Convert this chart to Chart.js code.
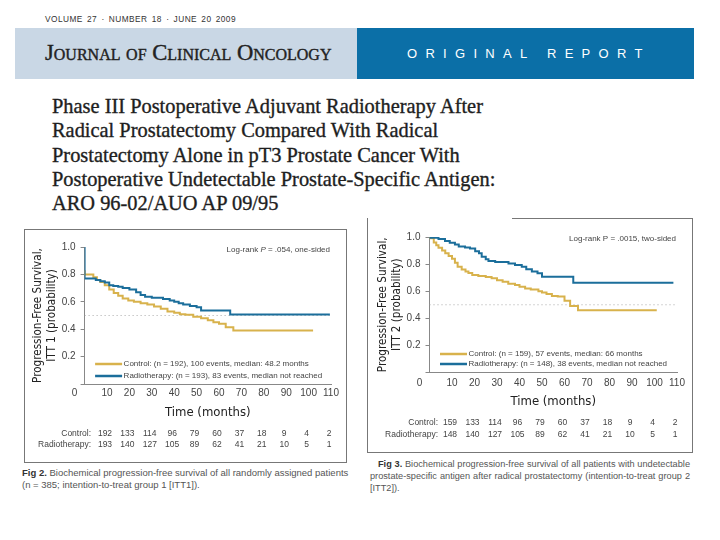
<!DOCTYPE html>
<html lang="en">
<head>
<meta charset="UTF-8">
<title>ARO 96-02/AUO AP 09/95</title>
<script src="https://cdn.jsdelivr.net/npm/chart.js@4.4.1/dist/chart.umd.min.js"></script>
<style>
  body { margin:0; width:720px; height:540px; background:#fff; position:relative; overflow:hidden; font-family:'Liberation Sans', Arial, sans-serif; }
  .abs { position:absolute; white-space:nowrap; }
  #issue { left:45px; top:14px; font-size:8.3px; letter-spacing:0.45px; word-spacing:1.5px; color:#333; }
  #bandL { left:15px; top:28px; width:342px; height:51px; background:#c9d7e5; }
  #bandR { left:357px; top:28px; width:337px; height:51px; background:#0b6fa7; }
  #journal { left:45px; top:40px; font-family:'Liberation Serif', serif; font-variant:small-caps; font-size:22.6px; color:#222; -webkit-text-stroke:0.4px #222; }
  #report { left:407px; top:46px; font-size:13px; letter-spacing:8.3px; color:#fff; }
  #title { left:52px; top:94px; font-family:'Liberation Serif', serif; font-size:20.4px; line-height:24.3px; color:#1e1e1e; -webkit-text-stroke:0.35px #1e1e1e; }
  .frame { box-sizing:border-box; border:1px solid #777; }
  #frameL { left:24px; top:229px; width:323px; height:234px; }
  #frameR { left:367px; top:218px; width:326px; height:235px; border-top:none; }
  #frameTop { left:512px; top:218px; width:181px; height:1px; background:#777; }
  canvas { position:absolute; }
  .cap { font-size:9.5px; color:#555; line-height:12px; }
  .cap b { color:#333; }
  #cap3 { left:370px; top:458px; width:320px; font-size:9.2px; }
  #cap3 span { display:block; white-space:nowrap; text-align:justify; text-align-last:justify; }
  #cap3 span.last { text-align-last:left; }
</style>
</head>
<body>
<div class="abs" id="issue">VOLUME 27 · NUMBER 18 · JUNE 20 2009</div>
<div class="abs" id="bandL"></div>
<div class="abs" id="bandR"></div>
<div class="abs" id="journal">Journal of Clinical Oncology</div>
<div class="abs" id="report">ORIGINAL REPORT</div>
<div class="abs" id="title">Phase III Postoperative Adjuvant Radiotherapy After<br>Radical Prostatectomy Compared With Radical<br>Prostatectomy Alone in pT3 Prostate Cancer With<br>Postoperative Undetectable Prostate-Specific Antigen:<br>ARO 96-02/AUO AP 09/95</div>

<div class="abs frame" id="frameL"></div>
<div class="abs frame" id="frameR"></div>
<div class="abs" id="frameTop"></div>
<canvas id="chart1" width="320" height="231" style="left:25px;top:230px"></canvas>
<canvas id="chart2" width="323" height="232" style="left:368px;top:219px"></canvas>

<div class="abs cap" style="left:22px;top:467px"><b>Fig 2.</b> Biochemical progression-free survival of all randomly assigned patients<br>(n = 385; intention-to-treat group 1 [ITT1]).</div>
<div class="abs cap" id="cap3"><span style="padding-left:8px"><b>Fig 3.</b> Biochemical progression-free survival of all patients with undetectable</span><span>prostate-specific antigen after radical prostatectomy (intention-to-treat group 2</span><span class="last">[ITT2]).</span></div>

<script>
// axis ticks
const xTicks = [0, 10, 20, 30, 40, 50, 60, 70, 80, 90, 100, 110];
const riskTimes = [10, 20, 30, 40, 50, 60, 70, 80, 90, 100, 110];

// Fig 2 - ITT1 (months, probability)
const itt1RadioT = [0, 0, 5, 7, 9, 11, 12.8, 15, 17, 20, 23, 25, 27, 30, 35, 38, 40, 42, 44, 47, 50, 52, 65, 72.4, 109.5];
const itt1RadioS = [1.0, 0.776, 0.77, 0.76, 0.75, 0.74, 0.72, 0.715, 0.71, 0.70, 0.69, 0.67, 0.65, 0.637, 0.63, 0.62, 0.61, 0.60, 0.59, 0.58, 0.57, 0.56, 0.537, 0.508, 0.508];
const itt1ControlT = [0, 3.9, 5.5, 7, 9, 11, 13, 15, 17, 19.5, 22, 25, 28, 31, 34, 37, 40, 42.5, 45, 48.5, 52, 55, 57.5, 60, 63, 66.4, 70.8, 102];
const itt1ControlS = [0.83, 0.80, 0.78, 0.76, 0.745, 0.72, 0.69, 0.665, 0.645, 0.625, 0.61, 0.60, 0.59, 0.58, 0.565, 0.55, 0.53, 0.52, 0.51, 0.505, 0.49, 0.48, 0.465, 0.45, 0.44, 0.415, 0.39, 0.39];
const itt1RiskControl = [192, 133, 114, 96, 79, 60, 37, 18, 9, 4, 2];
const itt1RiskRadio = [193, 140, 127, 105, 89, 62, 41, 21, 10, 5, 1];

// Fig 3 - ITT2
const itt2RadioT = [0, 4, 6.9, 9, 11.3, 13, 15.8, 18, 20.3, 22, 23.2, 25, 26.2, 29.2, 35.1, 38, 41, 43, 45.5, 48, 50, 63.9, 71.3, 108.4];
const itt2RadioS = [1.0, 0.995, 0.985, 0.97, 0.958, 0.945, 0.93, 0.922, 0.915, 0.895, 0.88, 0.855, 0.835, 0.822, 0.815, 0.805, 0.793, 0.78, 0.762, 0.745, 0.732, 0.707, 0.663, 0.663];
const itt2ControlT = [0, 1.9, 3, 4, 5.6, 7, 8.5, 10, 11.3, 12.5, 14.3, 16, 17.3, 19, 21.7, 25, 27.6, 30, 32.5, 35, 38, 40, 42.5, 45, 48.4, 50, 52, 54.4, 57, 60, 62.5, 66, 72, 101];
const itt2ControlS = [1.0, 0.99, 0.96, 0.94, 0.92, 0.90, 0.88, 0.86, 0.84, 0.81, 0.78, 0.76, 0.745, 0.735, 0.72, 0.712, 0.705, 0.695, 0.68, 0.67, 0.655, 0.645, 0.633, 0.62, 0.612, 0.60, 0.59, 0.58, 0.565, 0.56, 0.53, 0.49, 0.46, 0.46];
const itt2RiskControl = [159, 133, 114, 96, 79, 60, 37, 18, 9, 4, 2];
const itt2RiskRadio = [148, 140, 127, 105, 89, 62, 41, 21, 10, 5, 1];

const yellow = '#d8b24c';
const blue = '#1b6e9b';
const narrow = "'Liberation Sans Narrow', 'DejaVu Sans Condensed', sans-serif";

Chart.defaults.font.family = "'Liberation Sans', Arial, sans-serif";
Chart.defaults.color = '#444';

const pts = (t, s) => t.map((v, i) => ({ x: v, y: s[i] }));

// legend, log-rank note, "0" label and numbers at risk
const kmExtras = {
  id: 'kmExtras',
  afterDraw(chart, args, o) {
    const { ctx, chartArea: a, scales: { x } } = chart;
    ctx.save();
    ctx.fillStyle = '#444';
    ctx.textBaseline = 'middle';

    // log-rank text, right aligned
    let px = a.right - 1;
    ctx.textAlign = 'left';
    for (let i = o.note.length - 1; i >= 0; i--) {
      const p = o.note[i];
      ctx.font = (p.it ? 'italic ' : '') + '8px "Liberation Sans"';
      px -= ctx.measureText(p.t).width;
      ctx.fillText(p.t, px, a.top + o.noteDy);
    }

    // legend
    ctx.font = '8px "Liberation Sans"';
    chart.data.datasets.forEach(ds => {
      if (!ds.legendText) return;
      const ly = a.bottom - ds.legendDy;
      ctx.strokeStyle = ds.borderColor;
      ctx.lineWidth = 2.5;
      ctx.beginPath();
      ctx.moveTo(a.left + 10.5, ly);
      ctx.lineTo(a.left + 37.5, ly);
      ctx.stroke();
      ctx.fillText(ds.legendText, a.left + 39, ly);
    });

    // origin label
    ctx.font = '10px "Liberation Sans"';
    ctx.textAlign = 'center';
    ctx.fillText('0', a.left - 10, a.bottom + o.zeroDy);

    // numbers at risk
    ctx.font = '8.5px "Liberation Sans"';
    o.rows.forEach(r => {
      ctx.textAlign = 'right';
      ctx.fillText(r.label, o.labelX, r.y);
      ctx.textAlign = 'center';
      r.values.forEach((v, i) => ctx.fillText(v, x.getPixelForValue(riskTimes[i]) - 2, r.y));
    });
    ctx.restore();
  }
};

function makeChart(id, cfg) {
  new Chart(document.getElementById(id), {
    type: 'line',
    data: {
      datasets: [
        { data: pts(cfg.radioT, cfg.radioS), borderColor: blue, legendText: cfg.radioLabel, legendDy: cfg.legendDy[1] },
        { data: pts(cfg.controlT, cfg.controlS), borderColor: yellow, legendText: cfg.controlLabel, legendDy: cfg.legendDy[0] },
        { data: [{ x: 0, y: 0.5 }, { x: 110, y: 0.5 }], borderColor: '#aaa', borderWidth: 1, borderDash: [1, 3], stepped: false }
      ]
    },
    options: {
      responsive: false,
      animation: false,
      layout: { padding: { left: 0, top: cfg.top, right: 14, bottom: cfg.bottom } },
      elements: { point: { radius: 0 }, line: { borderWidth: 2, stepped: 'after' } },
      scales: {
        x: {
          type: 'linear', min: 0, max: 110,
          afterBuildTicks: s => { s.ticks = xTicks.map(v => ({ value: v })); },
          afterFit: s => { s.height = cfg.xH; },
          ticks: { autoSkip: false, maxRotation: 0, padding: cfg.xPad, font: { size: 10 }, color: '#444', callback: v => v === 0 ? '' : v },
          grid: { display: false, drawTicks: false, tickLength: 0 },
          border: { color: '#888', width: 1 },
          title: { display: true, text: 'Time (months)', font: { family: narrow, size: 13 }, color: '#222', padding: 0 }
        },
        y: {
          min: 0, max: 1,
          afterFit: s => { s.width = cfg.yW; },
          ticks: { stepSize: 0.2, padding: 5, font: { size: 10 }, color: '#444', callback: v => v === 0 ? '' : v.toFixed(1) },
          grid: { display: true, drawOnChartArea: false, drawTicks: true, tickLength: 4, color: '#888' },
          border: { color: '#888', width: 1 },
          title: { display: true, text: ['Progression-Free Survival,', cfg.yTitle], font: { family: narrow, size: 11.6, lineHeight: 1.2 }, color: '#222', padding: { top: cfg.yTitlePad } }
        }
      },
      plugins: {
        legend: { display: false },
        tooltip: { enabled: false },
        kmExtras: {
          note: cfg.note, noteDy: cfg.noteDy, zeroDy: cfg.zeroDy,
          labelX: cfg.labelX, rows: cfg.rows
        }
      }
    },
    plugins: [kmExtras]
  });
}

makeChart('chart1', {
  radioT: itt1RadioT, radioS: itt1RadioS, controlT: itt1ControlT, controlS: itt1ControlS,
  controlLabel: 'Control: (n = 192), 100 events, median: 48.2 months',
  radioLabel: 'Radiotherapy: (n = 193), 83 events, median not reached',
  legendDy: [20, 8],
  top: 17, bottom: 40.6, xH: 36.4, yW: 59.6, xPad: 3, yTitlePad: 6,
  yTitle: 'ITT 1 (probability)',
  note: [{ t: 'Log-rank ' }, { t: 'P', it: true }, { t: ' = .054, one-sided' }], noteDy: 3, zeroDy: 9,
  labelX: 66,
  rows: [
    { label: 'Control:', values: itt1RiskControl, y: 204 },
    { label: 'Radiotherapy:', values: itt1RiskRadio, y: 215 }
  ]
});

makeChart('chart2', {
  radioT: itt2RadioT, radioS: itt2RadioS, controlT: itt2ControlT, controlS: itt2ControlS,
  controlLabel: 'Control: (n = 159), 57 events, median: 66 months',
  radioLabel: 'Radiotherapy: (n = 148), 38 events, median not reached',
  legendDy: [18.5, 8.5],
  top: 18, bottom: 41.6, xH: 36.9, yW: 61.5, xPad: 4.5, yTitlePad: 8,
  yTitle: 'ITT 2 (probability)',
  note: [{ t: 'Log-rank P = .0015, two-sided' }], noteDy: 2, zeroDy: 10.5,
  labelX: 70,
  rows: [
    { label: 'Control:', values: itt2RiskControl, y: 204 },
    { label: 'Radiotherapy:', values: itt2RiskRadio, y: 216 }
  ]
});
</script>
</body>
</html>
